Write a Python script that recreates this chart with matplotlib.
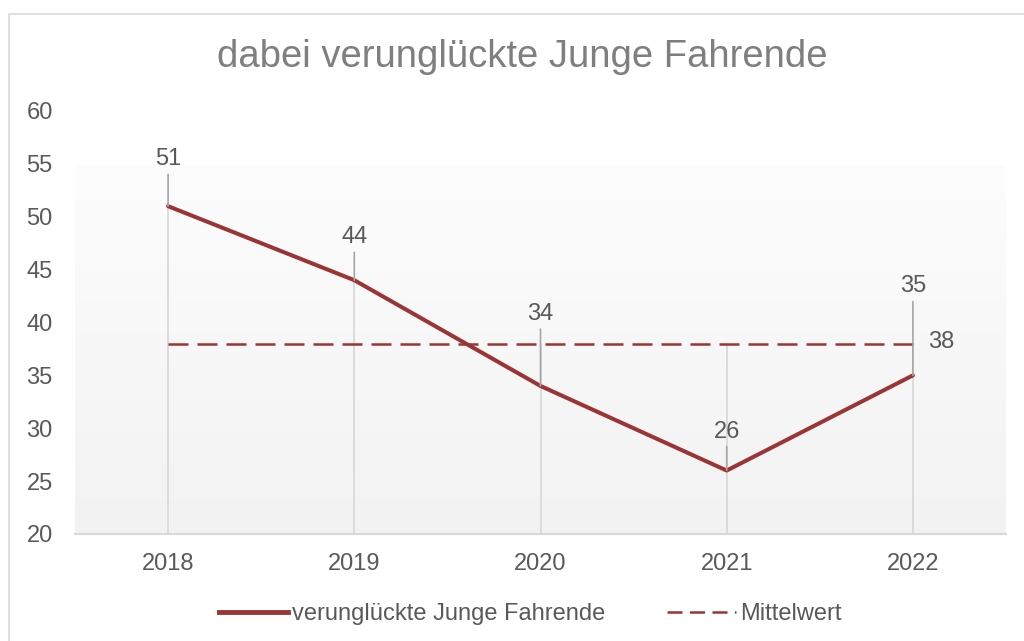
import matplotlib
matplotlib.use("Agg")
import matplotlib.pyplot as plt
import numpy as np
from matplotlib.lines import Line2D
from matplotlib.patches import Rectangle

years = ["2018", "2019", "2020", "2021", "2022"]
values = [51, 44, 34, 26, 35]
mean_value = 38
mean_series = [mean_value] * len(years)
title = "dabei verunglückte Junge Fahrende"
series_name = "verunglückte Junge Fahrende"
mean_name = "Mittelwert"
yticks = [20, 25, 30, 35, 40, 45, 50, 55, 60]

plt.rcParams['font.family'] = ['Liberation Sans', 'DejaVu Sans']

W, H = 1024, 641
fig = plt.figure(figsize=(W / 100, H / 100), dpi=100)
fig.patch.set_facecolor('white')

# outer border
fig.patches.append(Rectangle((9 / W, -0.1), 1.2, 1 - 14 / H + 0.1, transform=fig.transFigure,
                             fill=False, edgecolor='#d9d9d9', linewidth=1.2, zorder=0))

left, right, top, bottom = 75, 1006, 111, 534
ax = fig.add_axes([left / W, 1 - bottom / H, (right - left) / W, (bottom - top) / H])
ax.set_facecolor('none')

x = np.arange(len(years))
ax.set_xlim(-0.5, len(years) - 0.5)
ax.set_ylim(20, 60)

# gradient plot-area fill
gtop = (bottom - 165) / (bottom - top)
grad = np.linspace(0, 1, 256).reshape(-1, 1)
c_top = np.array([0xfd, 0xfd, 0xfd]) / 255
c_bot = np.array([0xf2, 0xf2, 0xf2]) / 255
img = c_bot + (c_top - c_bot) * grad
img = np.repeat(img[:, None, :], 2, axis=1).reshape(256, 2, 3)
ax.imshow(img, extent=[0, 1, 0, gtop], transform=ax.transAxes, origin='lower',
          aspect='auto', zorder=0)

# drop lines
for xi, v in zip(x, values):
    ax.plot([xi, xi], [20, max(v, mean_value)], color='#d9d9d9', lw=1.3, zorder=1)

line_color = '#9b3434'
ax.plot(x, values, color=line_color, lw=2.9, zorder=3, solid_capstyle='round')
ax.plot(x, mean_series, color=line_color, lw=1.8, linestyle=(0, (8, 3.6)), zorder=3)

# data labels with leader lines
offsets = [47, 43, 72, 39, 89]
for xi, v, off in zip(x, values, offsets):
    ax.annotate(str(v), xy=(xi, v), xytext=(0, off), textcoords='offset pixels',
                ha='center', va='center', fontsize=17, color='#595959',
                arrowprops=dict(arrowstyle='-', color='#a6a6a6', lw=1.2,
                                shrinkA=1, shrinkB=0), zorder=4)
ax.annotate(str(mean_value), xy=(x[-1], mean_value), xytext=(28, 2), textcoords='offset pixels',
            ha='center', va='center', fontsize=17, color='#595959', zorder=4)

ax.set_xticks(x)
ax.set_xticklabels(years)
ax.set_yticks(yticks)
ax.tick_params(axis='both', length=0, labelsize=17, labelcolor='#595959')
ax.tick_params(axis='y', pad=16)
ax.tick_params(axis='x', pad=14)
for s in ['top', 'right', 'left']:
    ax.spines[s].set_visible(False)
ax.spines['bottom'].set_color('#d9d9d9')
ax.spines['bottom'].set_linewidth(1.5)

fig.text(522 / W, 1 - 57 / H, title, ha='center', va='center', fontsize=27.5, color='#7f7f7f')

handles = [Line2D([], [], color=line_color, lw=3.5),
           Line2D([], [], color=line_color, lw=1.8, linestyle=(0, (6, 3)))]
fig.legend(handles, [series_name, mean_name], loc='center', bbox_to_anchor=(530 / W, 1 - 614 / H),
           ncol=2, frameon=False, fontsize=17, labelcolor='#595959', handlelength=2.95,
           handletextpad=0.15, columnspacing=2.6)

fig.savefig('out.png', dpi=100)
